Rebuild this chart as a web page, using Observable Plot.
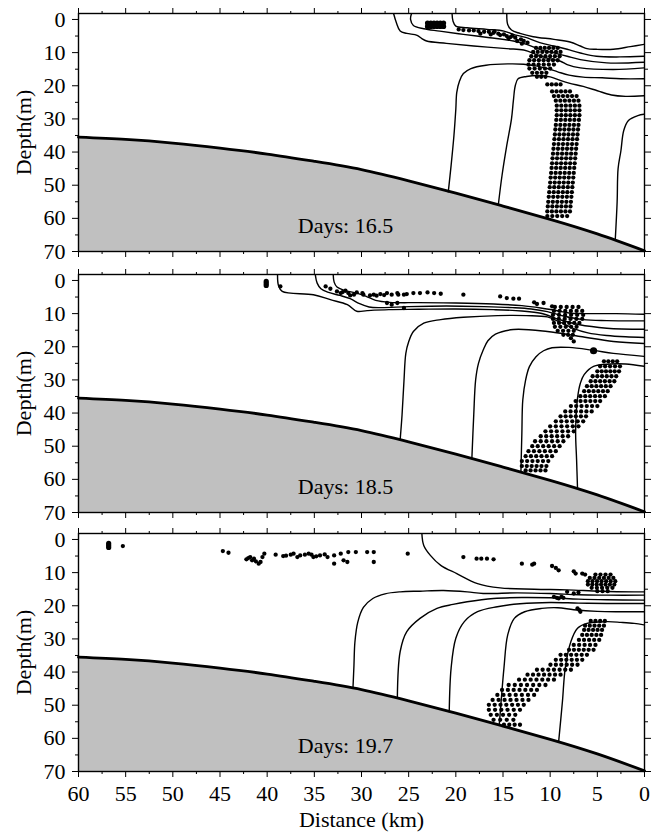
<!DOCTYPE html>
<html><head><meta charset="utf-8">
<script src="https://cdn.jsdelivr.net/npm/d3@7"></script>
<script src="https://cdn.jsdelivr.net/npm/@observablehq/plot@0.6"></script>
<style>
body{margin:0;background:#fff;}
#chart{position:relative;width:659px;height:832px;background:#fff;}
#chart svg{position:absolute;left:0;}
#chart svg text{font-family:"Liberation Serif",serif !important;font-variant:normal !important;}
</style></head><body><div id="chart"></div>
<script>
// ---------- axes ----------
const xTicks = [60,55,50,45,40,35,30,25,20,15,10,5,0];
const xMinor = [57.5,52.5,47.5,42.5,37.5,32.5,27.5,22.5,17.5,12.5,7.5,2.5];
const yTicks = [0,10,20,30,40,50,60,70];
const yMinor = [5,15,25,35,45,55,65];
const dayLabels = ["Days: 16.5","Days: 18.5","Days: 19.7"];

// ---------- bathymetry (km, depth) ----------
const bathyKm    = [60,55,50,45,40,35,30,25,20,15,10,5,0];
const bathyDepth = [35.5,36.2,37.3,38.8,40.6,42.8,45.3,48.7,52.4,56.3,60.3,64.7,69.8];

// ---------- panel 1 (16.5 days) ----------
const p1Contours = [
 [[26.6,-1.8],[26.3,1.0],[25.9,3.5],[25.2,4.2],[24.1,4.8],[23.6,5.8],[23.1,6.5],[21.0,7.2],[18.1,8.0],[14.6,8.8],[12.8,9.2],[11.4,10.6],[10.4,11.6],[8.9,12.6],[8.2,13.6],[6.8,14.6],[3.3,15.1],[0,14.6]],
 [[24.7,-1.8],[24.8,0],[24.5,1.8],[23.4,2.8],[21.7,3.5],[19.2,4.5],[16.4,5.5],[13.9,6.5],[12.5,7.5],[11.1,9.0],[9.6,10.1],[8.2,11.1],[6.8,12.1],[4.0,13.1],[0,12.9]],
 [[20.4,-1.8],[20.3,0.5],[20.0,2.0],[18.8,2.5],[16.7,3.0],[14.9,3.5],[13.9,4.5],[12.5,5.5],[11.1,7.0],[9.6,8.0],[8.2,9.0],[6.8,10.1],[5.1,11.1],[2.6,11.3],[0,11.1]],
 [[14.6,-1.8],[14.5,1.5],[14.1,3.2],[13.2,4.2],[11.8,5.2],[9.6,6.0],[7.9,6.8],[6.8,8.0],[6.1,8.8],[5.1,9.0],[3.3,9.0],[1.5,8.2],[0,7.5]],
 [[20.8,52],[20.5,44],[20.2,35],[20.0,27],[19.9,22],[19.6,18.5],[19.2,16.3],[18.4,14.8],[16.8,13.8],[14.5,13.4],[12.8,13.5],[11.5,14.0],[10.3,14.8],[9.2,15.8],[8,16.8],[6.5,17.4],[4.5,17.6],[2.5,17.9],[0,17.9]],
 [[15.5,56],[15.1,47],[14.6,38],[14.1,30],[13.9,24.5],[13.7,20],[13.4,17.9],[12.5,17.2],[11.2,16.9],[10,17.3],[9,18.3],[8,19.2],[6.5,20.2],[5,21.5],[3.5,22.8],[2,23.2],[0,23]],
 [[3.1,66.5],[2.9,55],[2.8,45],[2.5,39.6],[2.2,33.5],[1.7,30.5],[0.7,29],[0,28.6]]
];
const p1BlobRows = [[1.1,23.0,21.3,6],[2.1,23.0,21.3,6]];
const p1Dots = [[19.7,3.0],[19.2,3.2],[18.6,3.3],[18.1,3.3],[17.6,3.5],[17.0,3.7],[16.5,3.7],[16.0,4.0],[15.5,4.3],[14.9,4.5],[14.6,5.0],[14.2,5.3],[13.7,5.5],[13.1,6.0],[12.8,6.5],[12.4,7.0],[17.4,4.3],[16.3,4.5],[15.3,4.7],[14.4,5.7],[13.5,6.5],[13.0,7.3],[15.9,3.6],[14.0,4.9]];
const p1ClusterRows = [[8.6,11.5,9.2,6],[9.8,11.8,8.9,7],[11.1,12.0,9.0,7],[12.3,12.2,9.2,7],[13.6,12.3,9.6,6],[14.8,12.2,10.0,5],[16.1,11.9,10.4,4],[17.3,11.4,10.5,3],[19.6,10.3,8.9,4]];
const p1ColumnRows = [[21.7,9.8,7.9,5],[23.1,9.6,7.2,6],[24.5,9.4,7.0,6],[26.0,9.3,6.9,6],[27.4,9.3,6.9,6],[28.9,9.3,6.9,6],[30.3,9.35,6.95,6],[31.8,9.4,7.0,6],[33.2,9.45,7.05,6],[34.7,9.5,7.1,6],[36.1,9.55,7.15,6],[37.6,9.6,7.2,6],[39.0,9.65,7.25,6],[40.5,9.7,7.3,6],[41.9,9.75,7.35,6],[43.4,9.8,7.4,6],[44.8,9.85,7.45,6],[46.3,9.9,7.5,6],[47.7,9.95,7.55,6],[49.2,10.0,7.6,6],[50.6,10.05,7.65,6],[52.1,10.1,7.7,6],[53.5,10.15,7.75,6],[55.0,10.2,7.8,6],[56.4,10.25,7.85,6],[57.9,10.3,7.9,6],[59.3,10.3,8.2,5]];

// ---------- panel 2 (18.5 days) ----------
const p2Contours = [
 [[33.0,-1.8],[32.9,0.5],[32.6,2.0],[31.8,3.0],[30.5,3.8],[29.5,4.8],[28.5,6.0],[27,6.6],[24,6.7],[20,6.8],[16,7.1],[13,7.6],[11,8.3],[9.5,9.0],[8,9.8],[6.5,10.0],[3,10.0],[0,10.2]],
 [[34.9,-1.8],[34.7,0.8],[34.3,2.5],[33.5,3.6],[32.3,4.5],[31.2,5.5],[30.2,7.0],[29.2,8.0],[28,8.2],[25,7.9],[21,7.7],[17,7.9],[14,8.2],[12,8.6],[10.3,9.4],[8.5,10.8],[6.5,11.8],[4,12.1],[0,12.2]],
 [[38.9,-1.8],[38.8,1.5],[38.4,3.3],[35.1,4.3],[33.3,5.8],[31.5,7.3],[30.5,9.3],[29.4,9.1],[27.1,8.8],[24,8.7],[20,8.6],[16,8.8],[13,9.2],[11,9.9],[9,11.8],[7,13.3],[4,14.4],[0,14.7]],
 [[25.9,48],[25.7,40.5],[25.5,30.4],[25.3,22],[25.0,18.5],[24.5,15.4],[23.4,12.9],[21.6,11.8],[19.2,11.1],[15.6,10.6],[12.5,10.6],[10.3,11.0],[9,12.5],[7.5,14.5],[6,15.8],[4,16.6],[2,17.0],[0,17.2]],
 [[18.3,53.7],[18.1,40.5],[17.9,30],[17.6,25],[17.1,21],[16.6,18.2],[15.8,16.2],[13.9,14.8],[10.3,15.4],[6.8,16.9],[3.3,18.4],[0,19]],
 [[13.1,57.8],[13.0,46],[12.9,36],[12.6,30],[12.2,26],[11.5,23],[10.7,21.2],[9.8,20.3],[8,20.2],[5.4,21.1],[3.3,22],[0,22.9]],
 [[7.1,62.7],[7.2,54],[7.3,45.5],[7.1,35.5],[6.8,31],[6.4,28.4],[5.4,25.9],[3.6,25.2],[2.0,25.2],[0,25.9]]
];
const p2Blob = [[40.1,0.3],[40.1,0.9],[40.1,1.5]];
const p2Dots = [[38.6,1.8],[33.8,1.8],[33.3,2.5],[32.6,3.3],[32.2,3.8],[32.0,3.5],[31.7,3.1],[31.4,3.8],[31.2,4.5],[30.8,4.3],[30.5,3.6],[29.9,3.8],[29.8,4.3],[29.1,4.5],[28.7,4.3],[28.4,4.6],[28.0,4.1],[27.6,4.4],[27.3,3.8],[26.8,4.3],[26.2,3.8],[26.1,4.3],[25.5,4.3],[25.2,4.1],[24.5,3.8],[23.8,3.8],[23.0,3.6],[22.3,3.8],[21.6,4.0],[27.3,6.8],[26.8,7.3],[26.2,6.8],[25.5,8.3],[19.2,4.3],[15.3,4.8],[14.6,5.3],[13.9,5.5],[13.3,5.5],[11.7,6.6],[11.4,7.1],[10.7,6.8],[9.8,7.8],[7.8,17.4],[7.5,18.4]];
const p2Big = [[5.4,21.2]];
const p2ClusterRows = [[8.0,9.5,7.0,5],[9.2,9.6,6.6,6],[10.4,9.7,6.5,6],[11.6,9.7,6.6,6],[12.8,9.6,6.9,6],[14.0,9.5,7.2,5],[15.2,9.2,7.5,4],[16.4,8.6,7.6,3]];
const p2ColumnRows = [[24.4,4.3,2.9,4],[25.9,4.7,2.6,5],[27.4,5.0,2.7,6],[28.9,5.5,3.0,6],[30.4,5.7,3.2,6],[31.9,6.1,3.6,6],[33.4,6.4,3.9,6],[34.9,6.8,4.2,6],[36.4,7.3,4.7,6],[37.9,7.8,5.0,6],[39.5,8.4,5.6,6],[41.0,8.9,6.2,6],[42.5,9.4,6.5,6],[44.0,10.0,7.0,6],[45.5,10.5,7.5,6],[47.0,11.0,8.1,6],[48.5,11.6,8.6,6],[50.0,11.9,9.0,6],[51.5,12.3,9.4,6],[53.0,12.6,9.8,6],[54.5,13.0,10.2,6],[56.0,13.0,10.4,6],[57.3,12.6,10.5,5]];

// ---------- panel 3 (19.7 days) ----------
const p3Contours = [
 [[23.6,-1.8],[23.4,1.8],[22.7,4.8],[21.6,7.8],[19.9,10.3],[17.7,13.3],[15.3,14.6],[11.7,15.0],[8.2,15.2],[4.7,15.6],[1.1,15.8],[0,15.8]],
 [[30.9,44.6],[30.8,38],[30.7,31],[30.4,25],[29.8,20.5],[28.8,17.8],[27.5,16.4],[25.9,15.8],[23.8,15.6],[21.3,15.4],[18.8,15.8],[17.1,16.3],[13.5,16.1],[10,16.3],[7,16.7],[4,16.8],[0,16.8]],
 [[26.2,47.8],[25.9,33.8],[25.2,27.8],[23.8,23.8],[22.0,20.8],[20.3,19.6],[18.8,18.8],[16,17.8],[13,17.5],[10,17.6],[7,18],[4,18.2],[0,18.3]],
 [[20.7,52],[20.5,38.8],[20.0,29.8],[19.1,24.8],[17.7,21.8],[15.6,20.3],[13.2,19.4],[10,19.0],[7,19.2],[4,19.3],[0,19.3]],
 [[15.4,56.1],[15.2,48.9],[14.9,38.8],[14.5,28.8],[13.8,23.8],[12.7,21.8],[10.9,20.8],[9.2,20.6],[7.5,21.2],[5,21.7],[2.5,21.8],[0,21.8]],
 [[9.1,61],[8.7,48.9],[8.4,38.8],[7.8,30.8],[7.1,26.8],[6.1,25.3],[4.0,24.8],[2.5,25.0],[1.1,25.3],[0,25.8]]
];
const p3Blob = [[56.8,1.2],[56.8,1.8],[56.8,2.4]];
const p3Dots = [[55.3,2.0],[44.7,3.5],[44.1,4.0],[42.2,6.0],[42.0,5.6],[41.8,5.3],[41.6,6.3],[41.4,5.8],[41.2,6.6],[40.9,7.3],[40.7,6.8],[40.5,5.3],[40.3,4.3],[39.1,4.6],[38.3,5.0],[38.0,4.9],[37.5,4.6],[37.2,4.3],[36.8,5.3],[36.5,4.8],[36.0,4.6],[35.6,4.3],[35.3,4.6],[35.1,5.3],[34.8,5.1],[34.4,4.8],[33.9,4.5],[33.6,5.3],[32.9,4.8],[32.9,7.3],[32.2,4.3],[31.9,6.3],[31.5,6.8],[31.4,3.8],[30.6,3.8],[29.4,3.8],[28.7,3.8],[28.7,6.8],[25.1,4.3],
 [19.2,5.3],[17.8,5.8],[17.3,5.8],[16.7,5.8],[16.0,6.0],[13.0,7.3],[11.9,7.6],[11.7,7.3],[9.8,8.0],[9.4,8.6],[9.1,9.3],[7.5,9.6],[7.3,10.3],[6.6,10.3],[6.3,10.6],
 [9.6,17.3],[9.3,17.6],[9.1,17.8],[8.8,17.3],[8.6,17.6],[8.2,15.8],[7.5,16.3],[7.0,16.0],[7.1,20.8],[6.9,21.3],[6.8,21.8]];
const p3ClusterRows = [[10.6,5.2,3.6,4],[11.6,5.8,3.3,6],[12.6,6.0,3.1,7],[13.6,6.0,3.2,7],[14.6,5.6,3.4,5],[15.6,5.0,3.9,3]];
const p3ColumnRows = [[24.6,5.7,4.2,4],[26.0,6.3,4.3,5],[27.3,6.4,4.5,5],[28.8,6.6,4.6,5],[30.3,6.95,4.8,5],[31.8,7.5,5.2,5],[33.3,8.0,5.4,6],[34.8,8.9,6.1,6],[36.3,9.4,6.6,6],[37.8,9.97,7.1,6],[39.3,11.4,7.8,7],[40.8,12.4,8.9,7],[42.3,13.3,9.6,7],[43.9,14.4,10.5,7],[45.4,15.1,11.4,7],[46.9,15.6,11.7,7],[48.4,16.1,12.3,7],[49.9,16.5,12.8,7],[51.4,16.5,13.2,6],[52.9,16.3,13.7,5],[54.4,16.0,13.9,4],[55.9,14.9,13.2,4]];

// ---------- helpers ----------
const bathy = bathyKm.map((km, i) => ({km, depth: bathyDepth[i]}));
const toPts = arr => arr.map(([km, depth]) => ({km, depth}));
const rowsToPts = rows => rows.flatMap(([depth, a, b, n]) =>
  d3.range(n).map(i => ({km: n === 1 ? a : a + (b - a) * i / (n - 1), depth})));
const linesToPts = lines => lines.flatMap((line, id) => line.map(([km, depth]) => ({km, depth, id})));

const panels = [
  {contours: p1Contours, big: rowsToPts(p1BlobRows), dots: [...toPts(p1Dots), ...rowsToPts(p1ClusterRows), ...rowsToPts(p1ColumnRows)], huge: []},
  {contours: p2Contours, big: toPts(p2Blob), dots: [...toPts(p2Dots), ...rowsToPts(p2ClusterRows), ...rowsToPts(p2ColumnRows)], huge: toPts(p2Big)},
  {contours: p3Contours, big: toPts(p3Blob), dots: [...toPts(p3Dots), ...rowsToPts(p3ClusterRows), ...rowsToPts(p3ColumnRows)], huge: []}
];
const tops = [0, 261, 520];
const FONT = "Liberation Serif";
const FS = 22;
const chart = document.getElementById("chart");

panels.forEach((p, i) => {
  const last = i === 2;
  const mb = last ? 61 : 9;
  const blank = () => "";
  const marks = [
    Plot.areaY(bathy, {x: "km", y1: "depth", y2: () => 70, fill: "#c0c0c0", curve: "natural"}),
    Plot.line(linesToPts(p.contours), {x: "km", y: "depth", z: "id", stroke: "black", strokeWidth: 1.4, curve: "catmull-rom", clip: true}),
    Plot.line(bathy, {x: "km", y: "depth", stroke: "black", strokeWidth: 2.8, curve: "natural"}),
    Plot.dot(p.dots, {x: "km", y: "depth", r: 2.15, fill: "black", stroke: "none"}),
    Plot.dot(p.big, {x: "km", y: "depth", r: 2.6, fill: "black", stroke: "none"}),
    Plot.dot(p.huge, {x: "km", y: "depth", r: 3.6, fill: "black", stroke: "none"}),
    Plot.text([dayLabels[i]], {text: d => d, frameAnchor: "bottom", dx: -16, dy: -26, fontSize: FS, fontFamily: FONT, textAnchor: "middle", lineAnchor: "middle"}),
    Plot.text(["Depth(m)"], {text: d => d, frameAnchor: "left", dx: -55, rotate: -90, fontSize: FS, fontFamily: FONT, textAnchor: "middle", lineAnchor: "middle"}),
    Plot.frame({stroke: "black", strokeWidth: 1.4}),
    Plot.axisX(xTicks, {anchor: "top", tickSize: 6, tickFormat: blank, label: null}),
    Plot.axisX(xMinor, {anchor: "top", tickSize: 3, tickFormat: blank, label: null}),
    Plot.axisX(xTicks, {anchor: "bottom", tickSize: 6, tickPadding: 8, tickFormat: last ? (d => String(d)) : blank, fontSize: FS, fontFamily: FONT, label: null}),
    Plot.axisX(xMinor, {anchor: "bottom", tickSize: 3, tickFormat: blank, label: null}),
    Plot.axisY(yTicks, {anchor: "left", tickSize: 6, tickPadding: 7, tickFormat: d => String(d), fontSize: FS, fontFamily: FONT, label: null}),
    Plot.axisY(yMinor, {anchor: "left", tickSize: 3, tickFormat: blank, label: null}),
    Plot.axisY(yTicks, {anchor: "right", tickSize: 6, tickFormat: blank, label: null}),
    Plot.axisY(yMinor, {anchor: "right", tickSize: 3, tickFormat: blank, label: null})
  ];
  if (last) marks.push(Plot.text(["Distance (km)"], {text: d => d, frameAnchor: "bottom", dy: 48, fontSize: FS, fontFamily: FONT, textAnchor: "middle", lineAnchor: "middle"}));
  const svg = Plot.plot({
    width: 659, height: 13 + 238 + mb,
    marginLeft: 78, marginRight: 15, marginTop: 13, marginBottom: mb,
    x: {domain: [60, 0]},
    y: {domain: [-1.8, 70], reverse: true},
    style: {fontFamily: FONT, fontSize: FS + "px", color: "black", background: "transparent", overflow: "visible"},
    marks
  });
  svg.querySelectorAll("text").forEach(t => t.setAttribute("font-family", FONT));
  svg.style.top = tops[i] + "px";
  chart.appendChild(svg);
});
</script></body></html>
